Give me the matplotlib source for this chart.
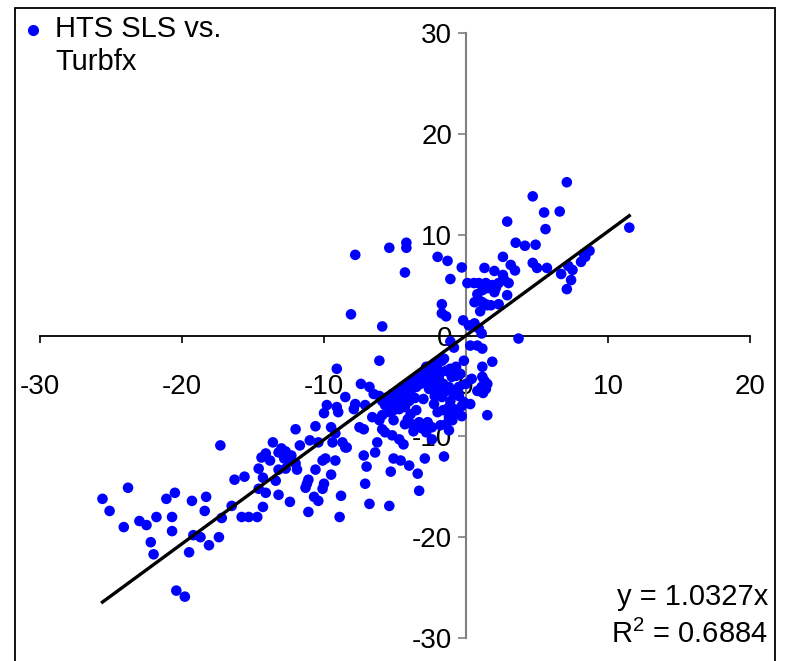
import numpy as np
import matplotlib
matplotlib.use('Agg')
import matplotlib.pyplot as plt
from matplotlib.patches import Rectangle
from matplotlib.lines import Line2D

plt.rcParams['font.family'] = 'Liberation Sans'
plt.rcParams['mathtext.fontset'] = 'custom'
plt.rcParams['mathtext.rm'] = 'Liberation Sans'
plt.rcParams['mathtext.default'] = 'regular'
plt.rcParams['axes.unicode_minus'] = False

# Turbfx (x) vs HTS SLS (y), split by region of the plot
cauda = [(-17.3,-10.9),(-23.8,-15.1),(-25.6,-16.2),(-25.1,-17.4),(-20.5,-15.6),(-21.1,-16.2),
         (-19.3,-16.4),(-18.3,-16.0),(-18.4,-17.4),(-16.3,-14.3),(-15.6,-14.0),(-16.5,-16.9),
         (-17.2,-18.1),(-15.8,-18.0),(-15.3,-18.0),(-14.7,-18.0),(-14.3,-17.0),(-23.0,-18.4),
         (-22.5,-18.8),(-21.8,-18.0),(-20.7,-18.0),(-24.1,-19.0),(-20.7,-19.4),(-22.2,-20.5),
         (-22.0,-21.7),(-19.2,-19.8),(-18.7,-20.0),(-17.4,-20.0),(-18.1,-20.8),(-19.5,-21.5),
         (-20.4,-25.3),(-19.8,-25.9),
         (-13.6,-10.6),(-13.0,-11.2),(-12.7,-11.5),(-13.2,-11.6),(-12.3,-11.9),(-12.8,-12.2),
         (-14.1,-11.7),(-14.4,-12.1),(-13.8,-12.4),(-12.5,-12.4),(-12.0,-12.7),(-11.9,-13.3),
         (-12.7,-13.2),(-13.2,-13.3),(-14.6,-13.2),(-14.3,-14.1),(-13.4,-14.4),(-14.6,-15.2),
         (-14.1,-15.6),(-13.2,-15.8),(-12.4,-16.5)]

meio = [(-8.5,-6.1),(-9.8,-6.9),(-9.1,-7.1),(-10.0,-7.7),(-9.0,-7.6),(-10.6,-9.0),(-12.0,-9.3),
        (-9.5,-9.1),(-9.2,-9.7),(-8.7,-10.6),(-8.5,-11.1),(-9.4,-10.6),(-11.0,-10.4),(-10.4,-10.6),
        (-11.7,-10.9),(-9.9,-12.2),(-10.1,-12.4),(-9.2,-12.4),(-10.6,-13.3),(-9.5,-13.8),
        (-11.1,-14.3),(-11.2,-14.7),(-11.3,-15.1),(-10.0,-14.7),(-10.1,-15.2),(-10.7,-16.0),
        (-10.4,-16.4),(-8.8,-15.9),(-11.1,-17.5),(-8.9,-18.0),(-9.1,-3.3),(-6.1,-2.5),
        (-6.8,-5.1),(-6.5,-5.8),(-6.1,-6.0),(-7.8,-6.8),(-7.9,-7.3),(-7.1,-6.9),(-6.6,-8.1),
        (-6.1,-8.4),(-7.5,-9.1),(-7.2,-9.3),(-6.4,-11.6),(-7.2,-11.9),(-7.0,-13.0),(-7.1,-14.7),
        (-6.8,-16.7),(-6.25,-10.6),(-8.4,-11.1)]

nucleo = [(-5.9,-6.5),(-5.5,-6.1),(-5.2,-5.8),(-4.8,-5.5),(-4.5,-5.1),(-4.1,-4.8),(-3.8,-4.5),
          (-3.4,-4.1),(-3.1,-3.8),(-2.7,-3.5),(-2.4,-3.1),(-2.0,-2.8),(-1.7,-2.5),(-5.7,-6.9),
          (-5.3,-6.8),(-5.0,-6.5),(-4.6,-6.3),(-4.3,-6.0),(-3.9,-5.5),(-3.5,-5.1),(-3.2,-4.8),
          (-2.8,-4.5),(-2.5,-4.1),(-2.1,-3.8),(-1.8,-3.6),(-1.4,-3.5),(-1.1,-3.3),(-0.7,-3.1),
          (-1.9,-4.5),(-1.6,-4.8),(-1.2,-5.1),(-2.3,-4.8),(-2.0,-5.5),(-1.4,-5.5),(-1.0,-4.1),
          (-0.4,-3.8),(-2.3,-3.3),
          (-5.9,-7.9),(-5.4,-7.6),(-5.1,-7.4),(-4.7,-7.3),(-4.3,-7.1),(-3.9,-7.8),(-3.5,-7.4),
          (-4.1,-8.3),(-4.3,-8.8),(-3.8,-8.8),(-3.3,-8.6),(-3.1,-9.2),(-2.7,-8.6),(-2.4,-9.1),
          (-5.1,-8.4),(-5.9,-9.3),(-5.7,-9.6),(-5.2,-9.9),(-4.7,-10.3),(-4.4,-10.8),(-5.1,-12.2),
          (-4.6,-12.4),(-4.0,-12.9),(-5.3,-13.5),(-3.4,-13.7),(-2.9,-12.2),(-1.55,-12.0),
          (-3.3,-15.4),(-5.4,-16.9),
          (-1.2,-7.1),(-0.85,-7.3),(-0.6,-7.6),(-1.2,-8.1),(-0.96,-8.4),(-1.4,-8.8),(-1.2,-9.4),
          (-0.5,-6.0),(-0.5,-5.1),(-0.15,-6.6),(0.0,-4.8),(-1.1,-6.5),(-0.85,-5.8),(-0.6,-5.5),
          (-0.7,-4.0),(-1.2,-3.6),(-1.9,-4.0),(-2.4,-4.3),(-2.8,-3.1),(-1.55,-2.3),(-0.15,-2.5),
          (-1.1,-0.6),(-0.85,-1.2),(-1.8,-8.9),(-2.8,-9.6),(-3.0,-6.3),(-2.25,-6.8),
          (-4.0,-6.5),(-3.6,-6.2),(-2.6,-5.3),(-2.2,-6.0),(-1.7,-6.1),(-2.0,-7.6),(-1.6,-7.4),
          (-0.3,-7.0),(-0.3,-8.0),(-3.7,-9.5),(-2.4,-10.3),(-7.4,-4.8),
          (0.3,-6.8),(0.3,-1.0),(0.8,-1.0),(1.15,-1.3),(0.4,-4.3),(1.15,-4.1),(1.4,-5.3),
          (1.15,-3.1),(1.3,-4.5),(1.5,-4.8),(1.1,-5.1),(0.8,-5.5),(1.2,-5.7),(1.5,-7.9),
          (1.85,-2.6),(3.7,-0.3)]

topo = [(-1.7,3.1),(-1.7,2.2),(-1.4,1.9),(-0.2,1.5),(0.2,1.0),(0.6,1.2),(0.9,0.7),(1.1,0.2),
        (0.6,3.3),(1.5,3.0),(2.3,3.1),(1.15,3.3),(4.7,13.8),(2.9,11.3),(3.5,9.2),(4.15,8.9),
        (4.9,9.0),(-7.8,8.0),(-5.4,8.7),(-4.2,9.2),(-4.2,8.7),(-4.3,6.25),(-2.0,7.8),(-1.3,7.4),
        (-0.3,6.75),(-1.1,5.6),(2.6,7.8),(3.15,7.0),(3.45,6.45),(4.7,7.2),(5.0,6.7),(1.3,6.7),
        (2.0,6.4),(0.1,5.2),(0.56,5.2),(0.9,5.2),(1.4,5.2),(1.85,5.0),(2.3,5.2),(2.7,5.5),
        (3.0,5.2),(2.1,4.7),(1.5,4.7),(0.8,4.1),(1.15,4.5),(2.0,4.3),(2.9,4.0),(0.9,3.5),
        (1.4,3.1),(1.75,3.0),(1.0,2.4),(-8.1,2.1),(-5.9,0.9),
        (7.1,15.2),(5.5,12.2),(6.6,12.3),(5.6,10.55),(11.5,10.7),(5.7,6.7),(6.7,6.1),
        (7.2,6.9),(7.5,6.5),(7.4,5.5),(7.1,4.6),(8.1,7.3),(8.4,7.8),(8.7,8.4),(8.3,8.1),(2.6,6.0)]

inclinacao = 1.0327
r2 = 0.6884

pontos = np.array(cauda + meio + nucleo + topo)
x = pontos[:, 0]
y = pontos[:, 1]

fig = plt.figure(figsize=(7.87, 6.61), dpi=100)
ax = fig.add_axes([40/787, 1-638/661, 710/787, 605/661])

ax.scatter(x, y, s=58, color='#0000ff', edgecolors='none', zorder=3)
xl = np.array([x.min(), x.max()])
ax.plot(xl, inclinacao*xl, color='black', lw=2.4, zorder=4)

ax.set_xlim(-30, 20)
ax.set_ylim(-30, 30)
ax.set_xticks([-30, -20, -10, 0, 10, 20])
ax.set_yticks([-30, -20, -10, 0, 10, 20, 30])

ax.spines['left'].set_position(('data', 0))
ax.spines['bottom'].set_position(('data', 0))
ax.spines['top'].set_visible(False)
ax.spines['right'].set_visible(False)
ax.spines['left'].set_color('#808080')
ax.spines['left'].set_linewidth(1.5)
ax.spines['bottom'].set_linewidth(1.3)

ax.tick_params(axis='x', direction='out', length=5, width=1.2, pad=23, labelsize=20)
ax.tick_params(axis='y', direction='out', length=6, width=1.2, color='#808080', pad=4, labelsize=20)
ax.patch.set_alpha(0)

# legenda e equacao
fig.add_artist(Line2D([33/787], [1-30/661], marker='o', markersize=7, color='#0000ff', lw=0))
fig.text(55/787, 1-29/661, 'HTS SLS vs.', fontsize=21, va='center', ha='left')
fig.text(55/787, 1-62/661, 'Turbfx', fontsize=21, va='center', ha='left')
fig.text(768/787, 1-597/661, 'y = {0}x'.format(inclinacao), fontsize=21, va='center', ha='right')
fig.text(768/787, 1-634/661, 'R$^{2}$' + ' = {0}'.format(r2), fontsize=21, va='center', ha='right')

fig.patches.append(Rectangle((15/787, -0.05), 760/787, 1.05-8/661, transform=fig.transFigure,
                             fill=False, edgecolor='black', lw=1.3))

fig.savefig('out.png', dpi=100)
